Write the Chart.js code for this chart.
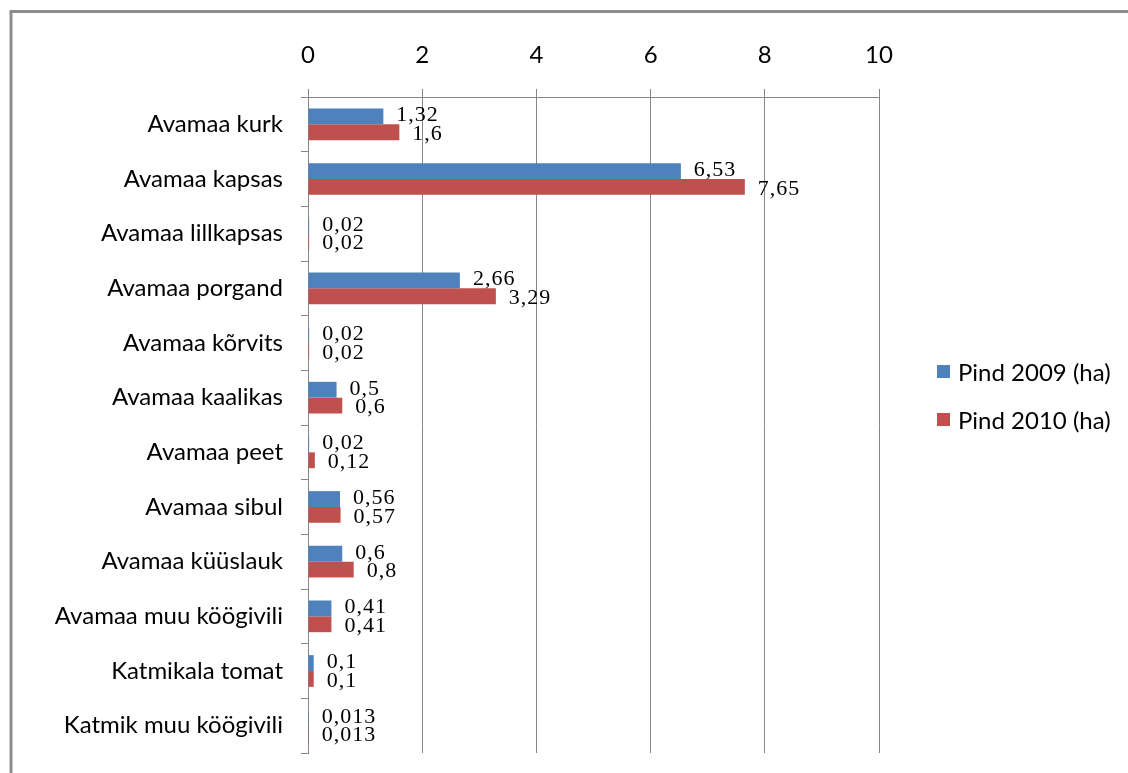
<!DOCTYPE html>
<html>
<head>
<meta charset="utf-8">
<script src="https://cdn.jsdelivr.net/npm/chart.js@4"></script>
<style>
  html, body { margin: 0; padding: 0; background: #fff; }
  #wrap { position: relative; width: 1128px; height: 773px; }
  #legend { position: absolute; left: 937px; top: 347px; font: 24px Lato, sans-serif; color: #000; }
  #legend div { height: 48px; display: flex; align-items: center; }
  #legend span { display: inline-block; width: 13px; height: 13px; margin-right: 8px; }
</style>
</head>
<body>
<div id="wrap">
  <canvas id="chart" width="1128" height="773"></canvas>
  <div id="legend"></div>
</div>
<script>
/* ── data ── */
const CATEGORIES = [
  'Avamaa kurk', 'Avamaa kapsas', 'Avamaa lillkapsas', 'Avamaa porgand',
  'Avamaa kõrvits', 'Avamaa kaalikas', 'Avamaa peet', 'Avamaa sibul',
  'Avamaa küüslauk', 'Avamaa muu köögivili', 'Katmikala tomat', 'Katmik muu köögivili',
];
const PIND_2009 = [1.32, 6.53, 0.02, 2.66, 0.02, 0.5, 0.02, 0.56, 0.6, 0.41, 0.1, 0.013];
const PIND_2010 = [1.6, 7.65, 0.02, 3.29, 0.02, 0.6, 0.12, 0.57, 0.8, 0.41, 0.1, 0.013];
const SERIES_NAMES = ['Pind 2009 (ha)', 'Pind 2010 (ha)'];
const COLORS = ['#4F81BD', '#C0504D'];
const X_TICKS = [0, 2, 4, 6, 8, 10];

/* ── outer frame (top + left only) ── */
const framePlugin = {
  id: 'frame',
  beforeDraw(chart) {
    const { ctx } = chart;
    ctx.save();
    ctx.strokeStyle = '#8c8c8c';
    ctx.lineWidth = 3;
    ctx.beginPath();
    ctx.moveTo(1128, 11.5);
    ctx.lineTo(11, 11.5);
    ctx.lineTo(11, 773);
    ctx.stroke();
    ctx.restore();
  },
};

/* ── value labels at bar ends ── */
const labelPlugin = {
  id: 'barlabels',
  afterDatasetsDraw(chart) {
    const { ctx } = chart;
    ctx.save();
    ctx.font = '22px "Liberation Serif", serif';
    ctx.letterSpacing = '1px';
    ctx.fillStyle = '#000';
    ctx.textAlign = 'left';
    ctx.textBaseline = 'middle';
    chart.data.datasets.forEach((ds, di) => {
      chart.getDatasetMeta(di).data.forEach((bar, i) => {
        const txt = String(ds.data[i]).replace('.', ',');
        ctx.fillText(txt, bar.x + 13, bar.y + (di === 0 ? -1 : 2));
      });
    });
    ctx.restore();
  },
};

const datasets = [PIND_2009, PIND_2010].map((vals, i) => ({
  label: SERIES_NAMES[i],
  data: vals,
  backgroundColor: COLORS[i],
  borderWidth: 0,
  categoryPercentage: 0.58,
  barPercentage: 1.0,
}));

new Chart(document.getElementById('chart').getContext('2d'), {
  type: 'bar',
  data: { labels: CATEGORIES, datasets },
  plugins: [framePlugin, labelPlugin],
  options: {
    indexAxis: 'y',
    animation: false,
    responsive: false,
    layout: { padding: { left: 0, right: 249, top: 0, bottom: 20 } },
    plugins: { legend: { display: false }, tooltip: { enabled: false } },
    scales: {
      x: {
        position: 'top',
        min: 0, max: 10,
        afterBuildTicks: s => { s.ticks = X_TICKS.map(v => ({ value: v })); },
        afterFit: s => { s.height = 97; s.paddingLeft = 0; s.paddingRight = 0; },
        grid: { color: '#868686', lineWidth: 1, tickLength: 8, drawTicks: true },
        border: { color: '#868686' },
        ticks: { color: '#000', padding: 19, font: { family: 'Lato', size: 24 } },
      },
      y: {
        afterFit: s => { s.width = 308; s.paddingTop = 0; s.paddingBottom = 0; },
        grid: { offset: true, drawOnChartArea: false, tickLength: 7, color: '#868686' },
        border: { color: '#868686' },
        ticks: { color: '#000', padding: 18, font: { family: 'Lato', size: 24 } },
      },
    },
  },
});

/* ── html legend ── */
const legendEl = document.getElementById('legend');
SERIES_NAMES.forEach((name, i) => {
  const row = document.createElement('div');
  row.innerHTML = `<span style="background:${COLORS[i]}"></span>${name}`;
  legendEl.appendChild(row);
});
</script>
</body>
</html>
